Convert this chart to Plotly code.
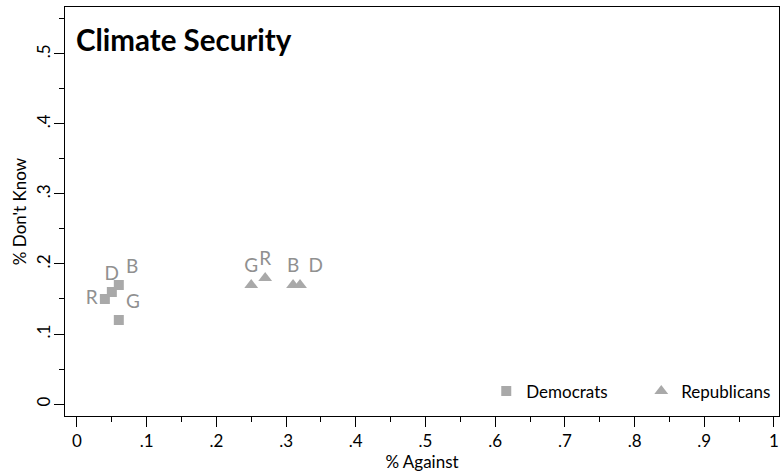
import plotly.graph_objects as go

# Data
dem_against = [0.04, 0.05, 0.06, 0.06]
dem_dontknow = [0.15, 0.16, 0.17, 0.12]
dem_labels = ["R", "D", "B", "G"]
dem_textpos = ["middle left", "top center", "top right", "top right"]

rep_against = [0.25, 0.27, 0.31, 0.32]
rep_dontknow = [0.17, 0.18, 0.17, 0.17]
rep_labels = ["G", "R", "B", "D"]
rep_textpos = ["top center", "top center", "top center", "top right"]

x_tickvals = [0, 0.1, 0.2, 0.3, 0.4, 0.5, 0.6, 0.7, 0.8, 0.9, 1.0]
x_ticktext = ["0", ".1", ".2", ".3", ".4", ".5", ".6", ".7", ".8", ".9", "1"]
y_tickvals = [0, 0.1, 0.2, 0.3, 0.4, 0.5]
y_ticktext = ["0", ".1", ".2", ".3", ".4", ".5"]

FONT = "Lato"
MARK = "#a9a9a9"
LAB = "#909090"

fig = go.Figure()
fig.add_trace(go.Scatter(
    x=dem_against, y=dem_dontknow, mode="markers+text", name="Democrats",
    text=dem_labels, textposition=dem_textpos,
    textfont=dict(family=FONT, size=19, color=LAB),
    marker=dict(symbol="square", size=10, color=MARK),
))
fig.add_trace(go.Scatter(
    x=rep_against, y=rep_dontknow, mode="markers+text", name="Republicans",
    text=rep_labels, textposition=rep_textpos,
    textfont=dict(family=FONT, size=19, color=LAB),
    marker=dict(symbol="triangle-up", size=12, color=MARK),
))

axis_common = dict(
    showline=True, linecolor="black", linewidth=1, mirror=True,
    showgrid=False, zeroline=False, ticks="outside", ticklen=10,
    tickcolor="black", tickwidth=1, automargin=False,
    tickfont=dict(family=FONT, size=17, color="black"),
)

fig.update_xaxes(
    range=[-0.0172, 1.0072], tickvals=x_tickvals, ticktext=x_ticktext,
    minor=dict(dtick=0.05, tick0=0, ticks="outside", ticklen=5, tickcolor="black"),
    title=dict(text="% Against", font=dict(family=FONT, size=17, color="black"), standoff=4),
    **axis_common,
)
fig.update_yaxes(
    range=[-0.0171, 0.567], tickvals=y_tickvals, ticktext=y_ticktext, tickangle=-90,
    ticklabelstandoff=-3,
    minor=dict(dtick=0.05, tick0=0, ticks="outside", ticklen=5, tickcolor="black"),
    title=dict(text="% Don't Know", font=dict(family=FONT, size=17, color="black"), standoff=2),
    **axis_common,
)

fig.add_annotation(
    x=0.012, y=0.92, xref="paper", yref="paper", xanchor="left", yanchor="middle",
    text="<b>Climate Security</b>", showarrow=False,
    font=dict(family=FONT, size=29.5, color="black"),
)

fig.update_layout(
    width=780, height=475,
    margin=dict(l=65, r=1, t=7, b=59, autoexpand=False),
    paper_bgcolor="white", plot_bgcolor="white",
    showlegend=True,
    legend=dict(orientation="h", x=0.59, xanchor="left", y=0.06, yanchor="middle",
                font=dict(family=FONT, size=17, color="black"),
                bgcolor="rgba(0,0,0,0)", itemwidth=30, entrywidth=110),
)

fig.write_html("out.html", config={"displayModeBar": False},
               post_script="document.body.style.margin='0';")
